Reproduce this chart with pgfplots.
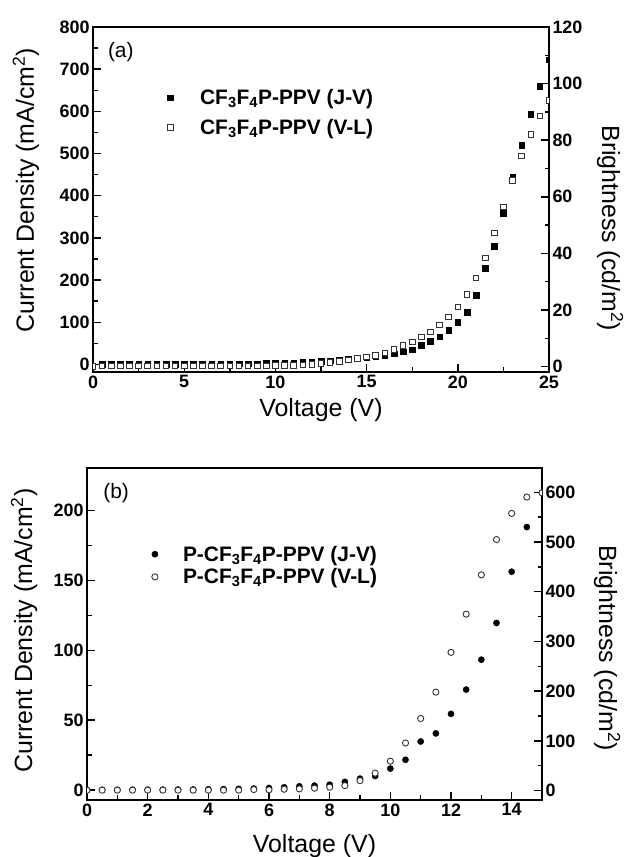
\documentclass[border=0pt]{standalone}
\usepackage{fontspec}
\setmainfont{Liberation Sans}
\usepackage{pgfplots}
\pgfplotsset{compat=1.18}
\pgfplotsset{
  base/.style={
    scale only axis,
    clip marker paths=true,
    tick align=inside,
    major tick length=8bp,
    minor tick length=4.5bp,
    every tick/.append style={line width=1.4bp, black},
    axis line style={line width=1.6bp},
    /pgf/number format/assume math mode=true,
    /pgf/number format/1000 sep={},
    tick label style={font=\fontsize{18}{21}\selectfont\bfseries},
    label style={font=\fontsize{25}{29}\selectfont},
  },
  leg/.style={
    legend cell align=left,
    legend style={draw=none, fill=none, inner sep=0pt,
      font=\fontsize{21}{25}\selectfont\bfseries,
      nodes={inner sep=0pt}, anchor=north west},
    legend image code/.code={\draw[##1] plot coordinates {(0bp,0bp)};},
  },
}
\begin{document}
\begin{tikzpicture}
\path[use as bounding box] (0,0) rectangle (625bp,857bp);
% ---------------- Panel (a) ----------------
\begin{axis}[base, at={(93bp,485bp)}, anchor=south west, width=456bp, height=345bp,
  xmin=0, xmax=25, ymin=-18, ymax=800,
  xtick={0,5,...,25}, minor x tick num=1,
  ytick={0,100,...,800}, minor y tick num=1,
  xtick pos=bottom, ytick pos=left,
  xlabel={Voltage (V)}, ylabel={Current Density (mA/cm\textsuperscript{2})},
  xlabel style={at={(axis description cs:0.5,-0.11)}, anchor=center},
  ylabel style={at={(axis description cs:-0.147,0.527)}, anchor=center},
]
\addplot[only marks, mark=square*, mark size=2.8bp, black] coordinates {
(0.5,0.4) (1.0,0.5) (1.5,0.5) (2.0,0.6) (2.5,0.6) (3.0,0.7) (3.5,0.7) (4.0,0.8)
(4.5,0.8) (5.0,0.9) (5.5,1.0) (6.0,1.0) (6.5,1.1) (7.0,1.2) (7.5,1.3) (8.0,1.5)
(8.5,1.7) (9.0,1.9) (9.5,2.2) (10.0,2.6) (10.5,3.2) (11.0,4.0) (11.5,5.0) (12.0,6.0)
(12.5,7.2) (13.0,8.6) (13.5,10.5) (14.0,12.5) (14.5,14.5) (15.0,16.5) (15.5,18.5)
(16.0,21) (16.5,25) (17.0,30) (17.5,35) (18.0,45) (18.5,55) (19.0,66) (19.5,81)
(20.0,100) (20.5,124) (21.0,164) (21.5,228) (22.0,280) (22.5,358) (23.0,444)
(23.5,520) (24.0,593) (24.5,660) (25.0,722)};
\node[font=\fontsize{21}{25}\selectfont] at (rel axis cs:0.061,0.928) {(a)};
\end{axis}
\begin{axis}[base, leg, at={(93bp,485bp)}, anchor=south west, width=456bp, height=345bp,
  xmin=0, xmax=25, ymin=-1.9, ymax=120,
  axis x line=none, axis y line*=right,
  ytick={0,20,...,120}, minor y tick num=1,
  ylabel={Brightness (cd/m\textsuperscript{2})},
  ylabel style={at={(axis description cs:1.134,0.417)}, anchor=center, rotate=180},
  legend style={at={(0.163,0.82)}, column sep=27bp, row sep=13bp},
]
\addlegendimage{only marks, mark=square*, mark size=2.8bp, black}
\addlegendentry{CF\textsubscript{3}F\textsubscript{4}P-PPV (J-V)}
\addplot[only marks, mark=square*, mark size=2.8bp, draw=black!80, fill=white, mark options={line width=0.9bp}] coordinates {
(0.0,0.0) (0.5,0.3) (1.0,0.3) (1.5,0.3) (2.0,0.3) (2.5,0.3) (3.0,0.3) (3.5,0.3)
(4.0,0.3) (4.5,0.3) (5.0,0.3) (5.5,0.3) (6.0,0.3) (6.5,0.3) (7.0,0.3) (7.5,0.3)
(8.0,0.3) (8.5,0.3) (9.0,0.3) (9.5,0.3) (10.0,0.4) (10.5,0.4) (11.0,0.5) (11.5,0.6)
(12.0,0.8) (12.5,1.1) (13.0,1.5) (13.5,1.9) (14.0,2.4) (14.5,2.9) (15.0,3.4)
(15.5,4.0) (16.0,4.8) (16.5,6.0) (17.0,7.4) (17.5,8.7) (18.0,10.5) (18.5,12.2)
(19.0,14.7) (19.5,17.5) (20.0,21.1) (20.5,25.5) (21.0,31.3) (21.5,38.4) (22.0,47.2)
(22.5,56.4) (23.0,65.7) (23.5,74.5) (24.0,82.0) (24.5,88.6) (25.0,94.0)};
\addlegendentry{CF\textsubscript{3}F\textsubscript{4}P-PPV (V-L)}
\end{axis}
% ---------------- Panel (b) ----------------
\begin{axis}[base, at={(87bp,57bp)}, anchor=south west, width=455bp, height=332bp,
  xmin=0, xmax=15, ymin=-7.2, ymax=230.6,
  xtick={0,2,...,14}, minor x tick num=1,
  ytick={0,50,...,200}, minor y tick num=1,
  xtick pos=bottom, ytick pos=left,
  xlabel={Voltage (V)}, ylabel={Current Density (mA/cm\textsuperscript{2})},
  xlabel style={at={(axis description cs:0.5,-0.139)}, anchor=center},
  ylabel style={at={(axis description cs:-0.138,0.51)}, anchor=center},
]
\addplot[only marks, mark=*, mark size=3.1bp, black] coordinates {
(0.0,0.0) (0.5,0.1) (1.0,0.1) (1.5,0.2) (2.0,0.2) (2.5,0.2) (3.0,0.3) (3.5,0.3)
(4.0,0.5) (4.5,0.6) (5.0,0.8) (5.5,1.0) (6.0,1.4) (6.5,1.9) (7.0,2.6) (7.5,3.1)
(8.0,3.8) (8.5,5.8) (9.0,8.1) (9.5,10.0) (10.0,15.3) (10.5,21.6) (11.0,34.7)
(11.5,40.5) (12.0,54.5) (12.5,71.9) (13.0,93.3) (13.5,119.6) (14.0,156.3) (14.5,188.3)};
\node[font=\fontsize{21}{25}\selectfont] at (rel axis cs:0.064,0.925) {(b)};
\end{axis}
\begin{axis}[base, leg, at={(87bp,57bp)}, anchor=south west, width=455bp, height=332bp,
  xmin=0, xmax=15, ymin=-19, ymax=649,
  axis x line=none, axis y line*=right,
  ytick={0,100,...,600}, minor y tick num=1,
  ylabel={Brightness (cd/m\textsuperscript{2})},
  ylabel style={at={(axis description cs:1.143,0.458)}, anchor=center, rotate=180},
  legend style={at={(0.142,0.766)}, column sep=25bp, row sep=6bp},
]
\addlegendimage{only marks, mark=*, mark size=3.1bp, black}
\addlegendentry{P-CF\textsubscript{3}F\textsubscript{4}P-PPV (J-V)}
\addplot[only marks, mark=*, mark size=3.1bp, draw=black!80, fill=white, mark options={line width=0.9bp}] coordinates {
(0.0,0.5) (0.5,0.8) (1.0,0.8) (1.5,0.8) (2.0,0.8) (2.5,0.8) (3.0,0.8) (3.5,0.8)
(4.0,0.8) (4.5,0.8) (5.0,0.8) (5.5,2.0) (6.0,1.4) (6.5,2.7) (7.0,3.4) (7.5,4.7)
(8.0,6.7) (8.5,10) (9.0,20) (9.5,35) (10.0,59) (10.5,95.6) (11.0,145) (11.5,198)
(12.0,278) (12.5,355) (13.0,434) (13.5,505) (14.0,557.6) (14.5,590.5) (15.0,599)};
\addlegendentry{P-CF\textsubscript{3}F\textsubscript{4}P-PPV (V-L)}
\end{axis}
\end{tikzpicture}
\end{document}
